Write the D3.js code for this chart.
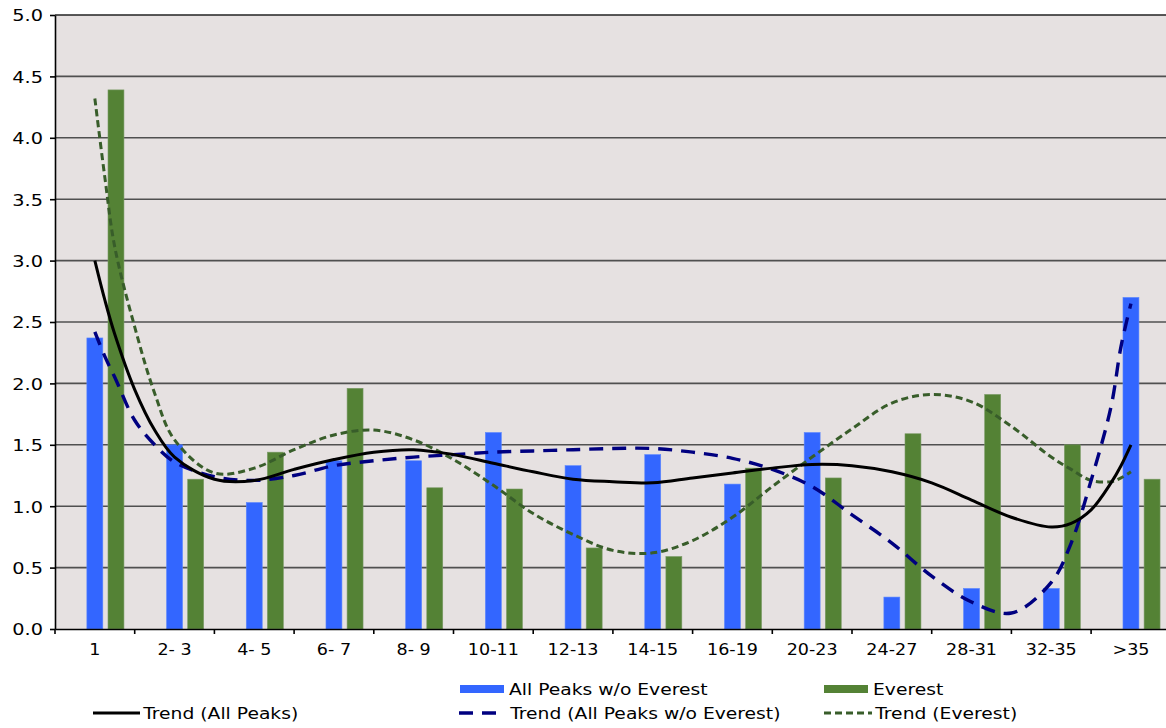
<!DOCTYPE html>
<html>
<head>
<meta charset="utf-8">
<script src="https://cdn.jsdelivr.net/npm/d3@7/dist/d3.min.js"></script>
<style>
  html, body { margin: 0; padding: 0; background: #ffffff; }
  svg { display: block; }
  text { font-family: "DejaVu Sans", Verdana, sans-serif; fill: #000; }
  .stretch-end { transform-box: fill-box; transform-origin: right center; transform: scaleX(1.17); }
  .stretch-mid { transform-box: fill-box; transform-origin: center center; transform: scaleX(1.17); }
  .stretch-start { transform-box: fill-box; transform-origin: left center; transform: scaleX(1.17); }
</style>
</head>
<body>
<svg id="chart" width="1166" height="728"></svg>
<script>
// ---- data ----
const categories = ["1", "2- 3", "4- 5", "6- 7", "8- 9", "10-11", "12-13", "14-15", "16-19", "20-23", "24-27", "28-31", "32-35", ">35"];
const allPeaksNoEverest = [2.37, 1.50, 1.03, 1.37, 1.37, 1.60, 1.33, 1.42, 1.18, 1.60, 0.26, 0.33, 0.33, 2.70];
const everest = [4.39, 1.22, 1.44, 1.96, 1.15, 1.14, 0.66, 0.59, 1.31, 1.23, 1.59, 1.91, 1.50, 1.22];

// trend curves, at fractional category positions
const trendPositions = [0, 0.125, 0.25, 0.5, 0.75, 1, 1.5, 2, 2.5, 3, 3.5, 4, 4.5, 5, 5.5, 6, 6.5, 7, 7.5, 8, 8.5, 9, 9.5, 10, 10.5, 11, 11.5, 12, 12.25, 12.5, 12.75, 12.875, 13];
const trendAllPeaks = [3.00, 2.68, 2.40, 1.95, 1.62, 1.40, 1.22, 1.21, 1.30, 1.38, 1.44, 1.46, 1.42, 1.35, 1.28, 1.22, 1.20, 1.19, 1.23, 1.27, 1.31, 1.34, 1.33, 1.28, 1.19, 1.05, 0.91, 0.83, 0.86, 0.97, 1.19, 1.33, 1.50];
const trendNoEverest = [2.42, 2.22, 2.05, 1.70, 1.50, 1.36, 1.24, 1.21, 1.25, 1.33, 1.37, 1.40, 1.42, 1.44, 1.45, 1.46, 1.47, 1.47, 1.44, 1.39, 1.30, 1.16, 0.93, 0.70, 0.43, 0.22, 0.13, 0.38, 0.70, 1.21, 1.81, 2.30, 2.65];
const trendEverest = [4.32, 3.68, 3.11, 2.46, 1.92, 1.54, 1.27, 1.31, 1.46, 1.58, 1.62, 1.54, 1.38, 1.17, 0.94, 0.77, 0.64, 0.62, 0.72, 0.91, 1.16, 1.40, 1.63, 1.84, 1.91, 1.85, 1.65, 1.40, 1.30, 1.21, 1.20, 1.23, 1.28];

const yTicks = [0, 0.5, 1, 1.5, 2, 2.5, 3, 3.5, 4, 4.5, 5];

const legendBars = ["All Peaks w/o Everest", "Everest"];
const legendTrends = ["Trend (All Peaks)", "Trend (All Peaks w/o Everest)", "Trend (Everest)"];

// ---- layout ----
const svg = d3.select("#chart");
const plotLeft = 55, plotTop = 15, plotBottom = 629;
const band = 79.7;
const plotRight = plotLeft + band * categories.length;

const x = d3.scaleBand().domain(categories).range([plotLeft, plotRight]).paddingInner(0).paddingOuter(0);
const bw = x.bandwidth();
const y = d3.scaleLinear().domain([0, 5]).range([plotBottom, plotTop]);
const xt = d3.scaleLinear().domain([0, categories.length - 1])
  .range([x(categories[0]) + bw / 2, x(categories[categories.length - 1]) + bw / 2]);

const colBlue = "#3366ff", colGreen = "#548235";
const colTrendBlue = "#000080", colTrendGreen = "#385d2a";

// plot background
svg.append("rect").attr("x", plotLeft).attr("y", plotTop).attr("width", plotRight - plotLeft).attr("height", plotBottom - plotTop)
  .attr("fill", "#e6e1e1");

// gridlines
svg.append("g").selectAll("line").data(yTicks.filter(d => d > 0)).join("line")
  .attr("x1", plotLeft).attr("x2", plotRight)
  .attr("y1", d => y(d)).attr("y2", d => y(d))
  .attr("stroke", d => d === 5 ? "#222" : "#505050").attr("stroke-width", 1.6);

// bars
svg.append("g").selectAll("rect").data(categories).join("rect")
  .attr("x", d => x(d) + bw * 0.40)
  .attr("width", bw * 0.20)
  .attr("y", (d, i) => y(allPeaksNoEverest[i]))
  .attr("height", (d, i) => y(0) - y(allPeaksNoEverest[i]))
  .attr("fill", colBlue).attr("stroke", "#5a86ff").attr("stroke-width", 0.6);
svg.append("g").selectAll("rect").data(categories).join("rect")
  .attr("x", d => x(d) + bw * 0.665)
  .attr("width", bw * 0.20)
  .attr("y", (d, i) => y(everest[i]))
  .attr("height", (d, i) => y(0) - y(everest[i]))
  .attr("fill", colGreen).attr("stroke", "#7a9a66").attr("stroke-width", 0.6);

// trend lines
const line = vals => d3.line()
  .x((d, i) => xt(trendPositions[i]))
  .y(d => y(d))
  .curve(d3.curveCatmullRom.alpha(0.5))(vals);

svg.append("path").attr("d", line(trendEverest)).attr("fill", "none")
  .attr("stroke", colTrendGreen).attr("stroke-width", 3).attr("stroke-dasharray", "7,4");
svg.append("path").attr("d", line(trendNoEverest)).attr("fill", "none")
  .attr("stroke", colTrendBlue).attr("stroke-width", 3.4).attr("stroke-dasharray", "14,9");
svg.append("path").attr("d", line(trendAllPeaks)).attr("fill", "none")
  .attr("stroke", "#000").attr("stroke-width", 3);

// axes
const yAxis = d3.axisLeft(y).tickValues(yTicks).tickFormat(d3.format(".1f")).tickSizeInner(5).tickSizeOuter(0).tickPadding(7);
const gy = svg.append("g").attr("transform", `translate(${plotLeft},0)`).call(yAxis);
gy.select(".domain").attr("stroke", "#000").attr("stroke-width", 1.6);
gy.selectAll(".tick line").attr("stroke", "#000").attr("stroke-width", 1.6);
gy.selectAll(".tick text").attr("font-size", 16.5).attr("class", "stretch-end").attr("dy", "0.36em");

const xAxis = d3.axisBottom(x).tickSize(0).tickPadding(15);
const gx = svg.append("g").attr("transform", `translate(0,${plotBottom})`).call(xAxis);
gx.select(".domain").attr("stroke", "#000").attr("stroke-width", 1.6);
gx.selectAll(".tick text").attr("font-size", 15).attr("class", "stretch-mid");
// tick marks between categories
svg.append("g").selectAll("line").data(categories).join("line")
  .attr("x1", d => x(d)).attr("x2", d => x(d))
  .attr("y1", plotBottom).attr("y2", plotBottom + 5)
  .attr("stroke", "#000").attr("stroke-width", 1.6);

// legend
const lg = svg.append("g");
const barLegendX = [460, 824];
legendBars.forEach((name, i) => {
  lg.append("rect").attr("x", barLegendX[i]).attr("y", 685).attr("width", 44).attr("height", 8)
    .attr("fill", i === 0 ? colBlue : colGreen);
  lg.append("text").attr("x", barLegendX[i] + 49).attr("y", 695).attr("font-size", 16)
    .attr("class", "stretch-start").text(name);
});
const trendLegendX = [93, 459, 824];
const trendLegendW = [47, 40, 48];
const trendStyles = [
  { stroke: "#000", dash: null, w: 3 },
  { stroke: colTrendBlue, dash: "14,9", w: 3.4 },
  { stroke: colTrendGreen, dash: "7,4", w: 3 }
];
legendTrends.forEach((name, i) => {
  const s = trendStyles[i];
  const l = lg.append("line").attr("x1", trendLegendX[i]).attr("x2", trendLegendX[i] + trendLegendW[i])
    .attr("y1", 713).attr("y2", 713).attr("stroke", s.stroke).attr("stroke-width", s.w);
  if (s.dash) l.attr("stroke-dasharray", s.dash);
  lg.append("text").attr("x", i === 1 ? trendLegendX[i] + 51 : trendLegendX[i] + trendLegendW[i] + 3)
    .attr("y", 719).attr("font-size", 16).attr("class", "stretch-start").text(name);
});
</script>
</body>
</html>
